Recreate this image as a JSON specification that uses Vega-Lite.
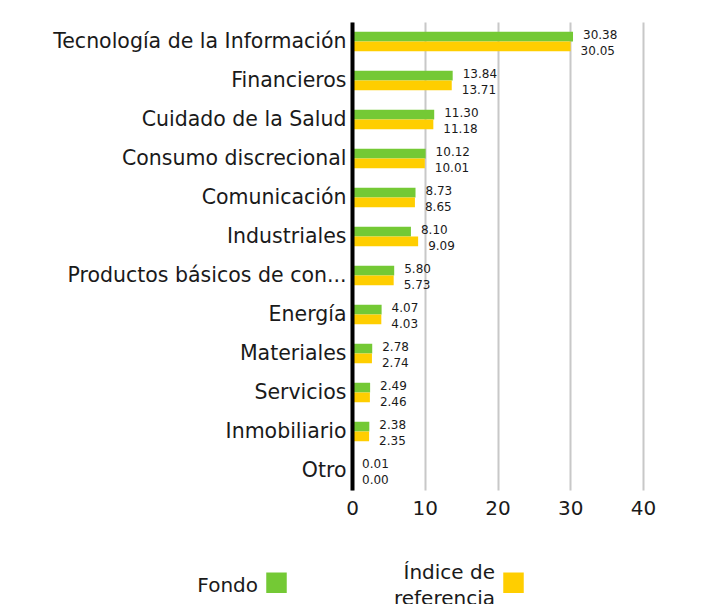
{
  "$schema": "https://vega.github.io/schema/vega-lite/v6.json",
  "width": 291,
  "height": 468,
  "padding": {"left": 52, "top": 22, "right": 5, "bottom": 5},
  "background": "white",
  "config": {
    "view": {"stroke": null},
    "font": "DejaVu Sans",
    "style": {"guide-label": {"lineHeight": 13}}
  },
  "data": {
    "values": [
      {"cat": "Tecnología de la Información", "series": "Fondo", "value": 30.38},
      {"cat": "Tecnología de la Información", "series": "Índice de referencia", "value": 30.05},
      {"cat": "Financieros", "series": "Fondo", "value": 13.84},
      {"cat": "Financieros", "series": "Índice de referencia", "value": 13.71},
      {"cat": "Cuidado de la Salud", "series": "Fondo", "value": 11.30},
      {"cat": "Cuidado de la Salud", "series": "Índice de referencia", "value": 11.18},
      {"cat": "Consumo discrecional", "series": "Fondo", "value": 10.12},
      {"cat": "Consumo discrecional", "series": "Índice de referencia", "value": 10.01},
      {"cat": "Comunicación", "series": "Fondo", "value": 8.73},
      {"cat": "Comunicación", "series": "Índice de referencia", "value": 8.65},
      {"cat": "Industriales", "series": "Fondo", "value": 8.10},
      {"cat": "Industriales", "series": "Índice de referencia", "value": 9.09},
      {"cat": "Productos básicos de con...", "series": "Fondo", "value": 5.80},
      {"cat": "Productos básicos de con...", "series": "Índice de referencia", "value": 5.73},
      {"cat": "Energía", "series": "Fondo", "value": 4.07},
      {"cat": "Energía", "series": "Índice de referencia", "value": 4.03},
      {"cat": "Materiales", "series": "Fondo", "value": 2.78},
      {"cat": "Materiales", "series": "Índice de referencia", "value": 2.74},
      {"cat": "Servicios", "series": "Fondo", "value": 2.49},
      {"cat": "Servicios", "series": "Índice de referencia", "value": 2.46},
      {"cat": "Inmobiliario", "series": "Fondo", "value": 2.38},
      {"cat": "Inmobiliario", "series": "Índice de referencia", "value": 2.35},
      {"cat": "Otro", "series": "Fondo", "value": 0.01},
      {"cat": "Otro", "series": "Índice de referencia", "value": 0.00}
    ]
  },
  "encoding": {
    "y": {
      "field": "cat",
      "type": "nominal",
      "sort": null,
      "scale": {"paddingInner": 0.5, "paddingOuter": 0.25},
      "axis": {
        "title": null,
        "domainColor": "#000000",
        "domainWidth": 4,
        "ticks": false,
        "grid": false,
        "labelFontSize": 20.5,
        "labelColor": "#1a1a1a",
        "labelPadding": 6,
        "labelLimit": 400,
        "zindex": 1
      }
    },
    "x": {
      "field": "value",
      "type": "quantitative",
      "scale": {"domain": [0, 40], "nice": false},
      "axis": {
        "title": null,
        "values": [0, 10, 20, 30, 40],
        "domain": false,
        "ticks": false,
        "tickSize": 0,
        "grid": true,
        "gridColor": "#c8c8c8",
        "gridWidth": 2,
        "labelFontSize": 20,
        "labelColor": "#1a1a1a",
        "labelPadding": 8,
        "labelFlush": false
      }
    },
    "yOffset": {
      "field": "series",
      "type": "nominal",
      "scale": {"domain": ["Fondo", "Índice de referencia"], "paddingInner": 0, "paddingOuter": 0}
    }
  },
  "layer": [
    {
      "mark": {"type": "bar"},
      "encoding": {
        "color": {
          "field": "series",
          "type": "nominal",
          "scale": {"domain": ["Fondo", "Índice de referencia"], "range": ["#74C935", "#FFCE00"]},
          "legend": {
            "orient": "none",
            "legendX": -86,
            "legendY": 550,
            "direction": "horizontal",
            "title": null,
            "symbolType": "square",
            "symbolSize": 420,
            "symbolStrokeWidth": 0,
            "labelFontSize": 20,
            "labelColor": "#1a1a1a",
            "labelAlign": "right",
            "labelBaseline": "bottom",
            "labelOffset": -29,
            "columnPadding": 106,
            "labelLimit": 300,
            "padding": 0,
            "labelExpr": "datum.label == 'Índice de referencia' ? ['Índice de', '\u2800', 'referencia'] : ['\u2800', datum.label, '\u2800']"
          }
        }
      }
    },
    {
      "transform": [{"filter": "datum.series == 'Fondo'"}],
      "mark": {"type": "text", "align": "left", "baseline": "middle", "dx": 10, "dy": -2, "fontSize": 12, "color": "#1a1a1a"},
      "encoding": {"text": {"field": "value", "type": "quantitative", "format": ".2f"}}
    },
    {
      "transform": [{"filter": "datum.series == 'Índice de referencia'"}],
      "mark": {"type": "text", "align": "left", "baseline": "middle", "dx": 10, "dy": 5, "fontSize": 12, "color": "#1a1a1a"},
      "encoding": {"text": {"field": "value", "type": "quantitative", "format": ".2f"}}
    }
  ]
}
